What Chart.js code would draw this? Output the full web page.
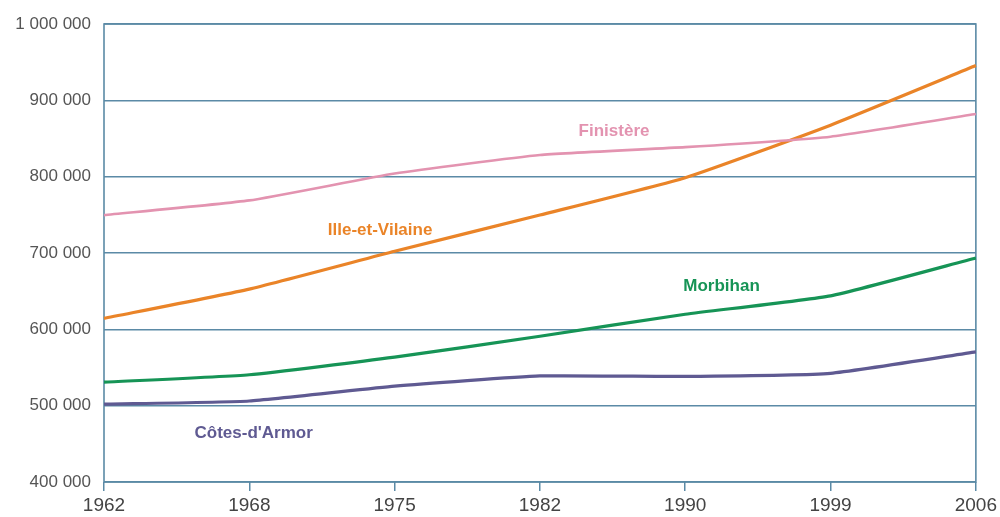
<!DOCTYPE html>
<html>
<head>
<meta charset="utf-8">
<style>
  html, body { margin: 0; padding: 0; background: #ffffff; }
  #wrap { width: 1000px; height: 517px; position: relative; }
</style>
<script src="https://cdn.jsdelivr.net/npm/chart.js@4.4.1/dist/chart.umd.min.js"></script>
</head>
<body>
<div id="wrap"><canvas id="chart" width="1000" height="517"></canvas></div>
<script>
// Census years (evenly spaced on the axis)
const years = ['1962', '1968', '1975', '1982', '1990', '1999', '2006'];

// Population by département
const finistere   = [749600, 768900, 804100, 828400, 838700, 852400, 882000];
const illeVilaine = [614300, 652700, 702200, 749800, 798700, 867500, 945500];
const morbihan    = [530800, 540500, 563600, 590900, 619800, 643900, 693500];
const cotesArmor  = [501900, 506100, 525600, 538900, 538400, 542400, 570500];

// Y-axis range and step
const yMin = 400000, yMax = 1000000, yStep = 100000;

// Series names, written inside the plot next to their line
const names  = ['Finistère', 'Ille-et-Vilaine', 'Morbihan', "Côtes-d'Armor"];
const colors = ['#e393b0', '#ea8428', '#169456', '#5f5a92'];
// Label anchors: fractional category index and value
const labelIdx = [3.51, 1.90, 4.25, 1.03];
const labelVal = [860000, 730000, 657000, 464000];

const FONT = '"Liberation Sans", Arial, sans-serif';
const gridColor = '#5b8aa6';

function fmtThousands(v) {
  return String(v).replace(/\B(?=(\d{3})+(?!\d))/g, ' ');
}

// Frame round the plot area
const framePlugin = {
  id: 'frame',
  beforeDatasetsDraw(chart) {
    const a = chart.chartArea, ctx = chart.ctx;
    ctx.save();
    ctx.strokeStyle = gridColor;
    ctx.lineWidth = 1.6;
    ctx.strokeRect(a.left, a.top, a.right - a.left, a.bottom - a.top);
    ctx.restore();
  }
};

// Series names drawn inside the plot
const seriesLabels = {
  id: 'seriesLabels',
  afterDatasetsDraw(chart) {
    const ctx = chart.ctx, xs = chart.scales.x, ys = chart.scales.y;
    ctx.save();
    ctx.font = 'bold 17px ' + FONT;
    ctx.textAlign = 'center';
    ctx.textBaseline = 'middle';
    names.forEach((n, i) => {
      ctx.fillStyle = colors[i];
      ctx.fillText(n, xs.getPixelForValue(labelIdx[i]), ys.getPixelForValue(labelVal[i]));
    });
    ctx.restore();
  }
};

const series = [finistere, illeVilaine, morbihan, cotesArmor];
const widths = [2.6, 3.2, 3.2, 3.2];

new Chart(document.getElementById('chart'), {
  type: 'line',
  data: {
    labels: years,
    datasets: series.map((d, i) => ({
      label: names[i],
      data: d,
      borderColor: colors[i],
      backgroundColor: colors[i],
      borderWidth: widths[i],
      pointRadius: 0,
      tension: 0.15,
      fill: false
    }))
  },
  options: {
    responsive: false,
    animation: false,
    layout: { padding: { top: 24, right: 21, bottom: 0, left: 0 } },
    plugins: { legend: { display: false }, tooltip: { enabled: false } },
    scales: {
      x: {
        offset: false,
        afterFit(s) { s.height = 35; },
        grid: {
          drawOnChartArea: false,
          drawTicks: true,
          tickLength: 9,
          color: gridColor,
          lineWidth: 1.5
        },
        border: { display: false },
        ticks: {
          autoSkip: false,
          maxRotation: 0,
          padding: 3,
          color: '#444',
          font: { family: FONT, size: 19 }
        }
      },
      y: {
        min: yMin,
        max: yMax,
        afterFit(s) { s.width = 104; },
        grid: { color: gridColor, lineWidth: 1.5, drawTicks: false },
        border: { display: false },
        ticks: {
          stepSize: yStep,
          padding: 13,
          color: '#555',
          font: { family: FONT, size: 17 },
          callback: v => fmtThousands(v)
        }
      }
    }
  },
  plugins: [framePlugin, seriesLabels]
});
</script>
</body>
</html>
